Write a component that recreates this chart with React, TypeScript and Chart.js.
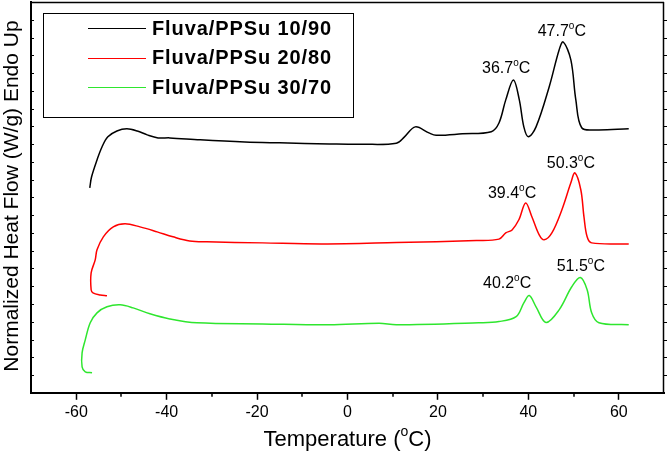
import { useEffect, useRef } from 'react';
import { Chart, registerables } from 'chart.js';

Chart.register(...registerables);

// Fluva/PPSu 10/90 (black)
const t1090 = [-57, -56.6, -55.4, -54.3, -53, -51, -48.8, -46.5, -44.3, -41.9, -39.3, -32.6, -22.7, -15, -4, 3.3, 10.8, 12.6, 15, 18, 19.6, 25.4, 31.8, 33.5, 35, 36.7, 38, 39, 40, 41.7, 44.6, 46.8, 47.7, 49.4, 50.5, 51.8, 54.9, 62.2];
const hf1090 = [11.54, 12.16, 13.11, 13.84, 14.41, 14.74, 14.86, 14.74, 14.52, 14.35, 14.35, 14.24, 14.12, 14.07, 14.01, 13.99, 14.05, 14.41, 14.97, 14.63, 14.5, 14.58, 14.7, 15.19, 16.49, 17.61, 16.49, 14.97, 14.41, 14.97, 17.22, 19.3, 19.75, 18.74, 16.49, 14.92, 14.8, 14.86];

// Fluva/PPSu 20/80 (red)
const t2080 = [-53.2, -54.7, -56.3, -56.7, -56.7, -55.8, -55.4, -54.0, -51.8, -49.2, -45.9, -42.1, -38.6, -34.9, -31.1, -18.8, -5.5, 10.8, 28.5, 33.5, 35, 36.4, 37.9, 39.4, 40.8, 42.4, 43.5, 45.2, 47.4, 49.4, 50.3, 51.6, 52.3, 53, 54, 62.2];
const hf2080 = [5.46, 5.51, 5.63, 5.8, 6.75, 7.48, 8.05, 8.78, 9.34, 9.51, 9.34, 9.06, 8.78, 8.55, 8.5, 8.44, 8.38, 8.46, 8.57, 8.65, 9.0, 9.17, 9.74, 10.69, 9.9, 8.89, 8.61, 9.0, 10.29, 11.82, 12.38, 11.43, 9.9, 8.78, 8.44, 8.38];

// Fluva/PPSu 30/70 (green)
const t3070 = [-56.5, -58, -58.7, -58.7, -58, -56.9, -55.4, -53.2, -50.3, -47.4, -43.7, -39.3, -33.3, -18.8, -4, 7, 10.8, 29, 33.5, 37.3, 39, 40.2, 41.7, 43.9, 46.8, 49.6, 51.5, 53, 54, 55.6, 62.2];
const hf3070 = [1.13, 1.18, 1.46, 2.25, 2.98, 3.94, 4.5, 4.84, 4.95, 4.78, 4.45, 4.16, 3.94, 3.88, 3.83, 3.92, 3.83, 3.94, 4.01, 4.29, 5.06, 5.48, 4.84, 3.96, 4.67, 5.97, 6.49, 5.8, 4.5, 3.94, 3.83];

const seriesNames = ['Fluva/PPSu 10/90', 'Fluva/PPSu 20/80', 'Fluva/PPSu 30/70'];
const seriesColors = ['#000000', '#ff0000', '#2ee62e'];

const xTicks = [-60, -40, -20, 0, 20, 40, 60];
const xMinorTicks = [-50, -30, -10, 10, 30, 50];

const peakLabels = ['36.7', '47.7', '39.4', '50.3', '40.2', '51.5'];
const peakLabelX = [35.1, 47.4, 36.4, 49.4, 35.3, 51.6];
const peakLabelY = [18.0, 20.09, 10.97, 12.66, 5.91, 6.87];

const FONT = '"Liberation Sans", Arial, sans-serif';

function toPoints(xs: number[], ys: number[]) {
  return xs.map((x, i) => ({ x, y: ys[i] }));
}

function drawDegreeText(ctx: CanvasRenderingContext2D, pre: string, post: string, cx: number, by: number, size: number, weight = '') {
  const mainFont = `${weight} ${size}px ${FONT}`;
  const supFont = `${weight} ${Math.round(size * 0.65)}px ${FONT}`;
  ctx.font = mainFont;
  const w1 = ctx.measureText(pre).width;
  const w3 = ctx.measureText(post).width;
  ctx.font = supFont;
  const w2 = ctx.measureText('o').width;
  const total = w1 + w2 + w3;
  let x = cx - total / 2;
  ctx.textAlign = 'left';
  ctx.textBaseline = 'alphabetic';
  ctx.font = mainFont;
  ctx.fillText(pre, x, by);
  x += w1;
  ctx.font = supFont;
  ctx.fillText('o', x, by - size * 0.45);
  x += w2;
  ctx.font = mainFont;
  ctx.fillText(post, x, by);
}

const decorPlugin = {
  id: 'decor',
  afterDraw(chart: any) {
    const { ctx, chartArea, scales } = chart;
    const xs = scales.x;
    const ys = scales.y;
    const { left, right, top, bottom } = chartArea;
    ctx.save();
    ctx.strokeStyle = '#000';
    ctx.fillStyle = '#000';
    // top and right frame
    ctx.lineWidth = 1.5;
    ctx.beginPath();
    ctx.moveTo(left, top + 0.5);
    ctx.lineTo(right, top + 0.5);
    ctx.moveTo(right - 0.5, top);
    ctx.lineTo(right - 0.5, bottom);
    ctx.stroke();
    // minor x ticks
    ctx.lineWidth = 1.5;
    ctx.beginPath();
    xMinorTicks.forEach((v) => {
      const px = Math.round(xs.getPixelForValue(v));
      ctx.moveTo(px, bottom);
      ctx.lineTo(px, bottom + 4);
    });
    ctx.stroke();
    // y ticks (left inward, right outward)
    ctx.lineWidth = 1;
    ctx.beginPath();
    for (let v = ys.min + 1; v < ys.max; v++) {
      const py = Math.round(ys.getPixelForValue(v)) + 0.5;
      ctx.moveTo(left, py);
      ctx.lineTo(left + 3, py);
      ctx.moveTo(right, py);
      ctx.lineTo(right + 3, py);
    }
    ctx.stroke();

    // legend box
    ctx.lineWidth = 1;
    ctx.strokeRect(43.5, 13.5, 310, 104);
    seriesNames.forEach((name, i) => {
      const y = 28 + i * 29.5;
      ctx.strokeStyle = seriesColors[i];
      ctx.lineWidth = 1;
      ctx.beginPath();
      ctx.moveTo(88, Math.round(y) + 0.5);
      ctx.lineTo(146, Math.round(y) + 0.5);
      ctx.stroke();
      ctx.fillStyle = '#000';
      ctx.font = `bold 20px ${FONT}`;
      (ctx as any).letterSpacing = '0.9px';
      ctx.textAlign = 'left';
      ctx.textBaseline = 'middle';
      ctx.fillText(name, 152, y + 1);
      (ctx as any).letterSpacing = '0px';
    });

    // peak labels
    ctx.fillStyle = '#000';
    peakLabels.forEach((lab, i) => {
      const px = xs.getPixelForValue(peakLabelX[i]);
      const py = ys.getPixelForValue(peakLabelY[i]);
      drawDegreeText(ctx, lab, 'C', px, py, 16);
    });

    // axis titles
    drawDegreeText(ctx, 'Temperature (', 'C)', xs.getPixelForValue(0), 446, 22);
    ctx.save();
    ctx.translate(12, 196);
    ctx.rotate(-Math.PI / 2);
    ctx.font = `21px ${FONT}`;
    ctx.textAlign = 'center';
    ctx.textBaseline = 'middle';
    ctx.fillText('Normalized Heat Flow (W/g) Endo Up', 0, 0);
    ctx.restore();
    ctx.restore();
  },
};

export default function App() {
  const ref = useRef<HTMLCanvasElement | null>(null);
  useEffect(() => {
    if (!ref.current) return;
    const chart = new Chart(ref.current, {
      type: 'scatter',
      data: {
        datasets: [
          { label: seriesNames[0], data: toPoints(t1090, hf1090), borderColor: seriesColors[0] },
          { label: seriesNames[1], data: toPoints(t2080, hf2080), borderColor: seriesColors[1] },
          { label: seriesNames[2], data: toPoints(t3070, hf3070), borderColor: seriesColors[2] },
        ].map((d) => ({ ...d, showLine: true, pointRadius: 0, borderWidth: 1.5, tension: 0.35, fill: false })),
      },
      options: {
        animation: false,
        responsive: false,
        devicePixelRatio: 1,
        layout: { padding: { left: 31, top: 2, right: 3, bottom: 27 } },
        plugins: { legend: { display: false }, tooltip: { enabled: false } },
        scales: {
          x: {
            type: 'linear',
            min: -70,
            max: 70,
            afterBuildTicks: (s: any) => {
              s.ticks = xTicks.map((v) => ({ value: v }));
            },
            ticks: { font: { family: FONT, size: 16 }, color: '#000', padding: 3, maxRotation: 0, autoSkip: false },
            grid: { drawOnChartArea: false, drawTicks: true, tickLength: 7, tickWidth: 1.5, tickColor: '#000' },
            border: { color: '#000', width: 2 },
          },
          y: {
            type: 'linear',
            min: 0,
            max: 22,
            ticks: { display: false, stepSize: 1 },
            grid: { drawOnChartArea: false, drawTicks: false },
            border: { color: '#000', width: 2 },
          },
        },
      },
      plugins: [decorPlugin],
    } as any);
    return () => chart.destroy();
  }, []);
  return (
    <div style={{ position: 'absolute', left: 0, top: 0, width: 667, height: 452, background: '#fff' }}>
      <canvas ref={ref} width={667} height={452} style={{ display: 'block' }} />
    </div>
  );
}
